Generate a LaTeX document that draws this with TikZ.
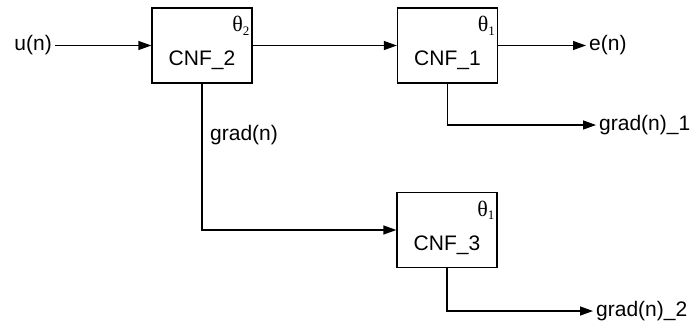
\documentclass[tikz,border=0pt]{standalone}
\usepackage{fontspec}
\setmainfont{Liberation Sans}
\newfontfamily\thetafont{Liberation Serif}
\usetikzlibrary{arrows.meta}
\newcommand{\thsub}[1]{{\thetafont\fontsize{22}{24}\selectfont θ\raisebox{-0.35ex}{\fontsize{13}{14}\selectfont #1}}}
\begin{document}
\begin{tikzpicture}[x=1pt,y=-1pt,
  box/.style={draw,line width=1.3pt,minimum width=100pt,minimum height=75pt,inner sep=0pt},
  lbl/.style={font=\fontsize{21}{24}\selectfont,inner sep=3pt},
  conn/.style={line width=1.3pt,-{Triangle[length=13pt,width=9pt]}},
  wire/.style={line width=1.3pt}]
\useasboundingbox (0,0) rectangle (695,322);
\node[box] (box2) at (202,45.5) {};
\node[box] (box1) at (447.5,45.5) {};
\node[box] (box3) at (447,230) {};
\node[lbl] (t2) at ([yshift=-15pt]box2.center) {CNF\_2};
\node[lbl] (t1) at ([yshift=-15pt]box1.center) {CNF\_1};
\node[lbl] (t3) at ([yshift=-15pt]box3.center) {CNF\_3};
\node[anchor=north east,inner sep=0pt] (th2) at ([xshift=-3pt,yshift=-9pt]box2.north east) {\thsub{2}};
\node[anchor=north east,inner sep=0pt] (th1) at ([xshift=-3pt,yshift=-9pt]box1.north east) {\thsub{1}};
\node[anchor=north east,inner sep=0pt] (th3) at ([xshift=-3pt,yshift=-9pt]box3.north east) {\thsub{1}};
\node[lbl,anchor=east] (u) at (55,45.5) {u(n)};
\node[lbl,anchor=west] (e) at (586,45.5) {e(n)};
\node[lbl,anchor=west] (g1) at (596,125) {grad(n)\_1};
\node[lbl,anchor=west] (g2) at (593,311) {grad(n)\_2};
\node[lbl,anchor=west] (gn) at (207,135) {grad(n)};
\draw[conn] (u.east) -- (box2.west);
\draw[conn] (box2.east) -- (box1.west);
\draw[conn] (box1.east) -- (e.west);
\draw[conn] (box1.south) |- (g1.west);
\draw[conn] (box2.south) |- (box3.west);
\draw[conn] (box3.south) |- (g2.west);
\end{tikzpicture}
\end{document}
